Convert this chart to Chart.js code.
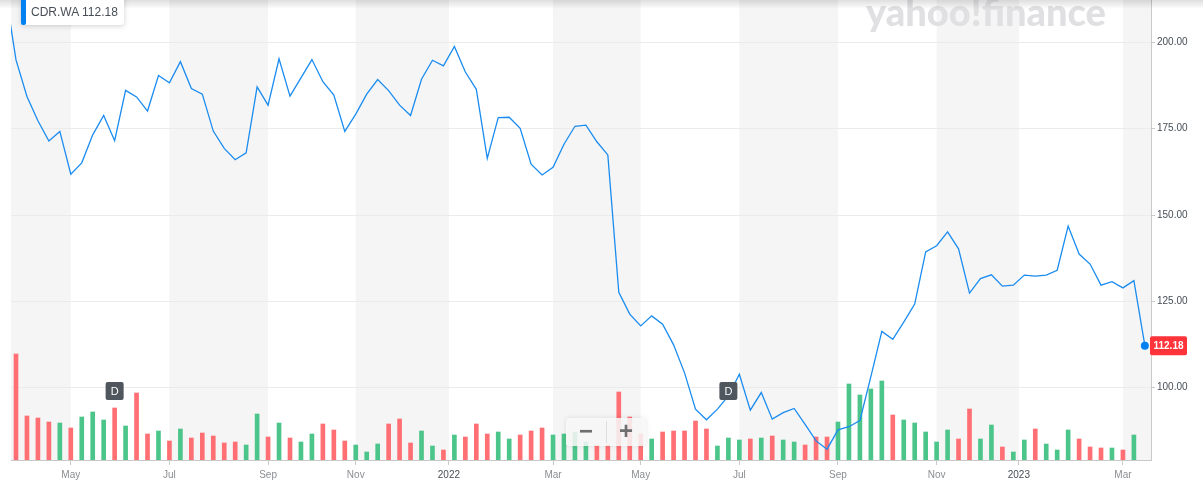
<!DOCTYPE html>
<html><head><meta charset="utf-8">
<script src="https://cdn.jsdelivr.net/npm/chart.js@4/dist/chart.umd.min.js"></script>
<style>html,body{margin:0;padding:0;background:#fff;}canvas{display:block;}</style>
</head><body>
<canvas id="c" width="1203" height="492"></canvas>
<script>
const ticker = 'CDR.WA';
const lastPrice = 112.18;
// weekly closes, week index -1 (partly off the left edge) .. 103 (current quote)
const closePrices = [
  215.4,
  194.9,184.3,177.3,171.4,174.2,161.8,165.1,173.2,178.8,171.5,
  186.1,184.2,180.1,190.4,188.3,194.4,186.6,185.0,174.3,169.3,
  166.0,168.0,187.1,181.8,195.2,184.4,189.7,195.0,188.6,184.7,
  174.2,179.2,185.0,189.2,186.0,181.8,178.8,189.3,194.8,193.2,
  198.8,191.4,186.4,166.4,178.2,178.3,175.1,164.7,161.6,163.8,
  170.5,175.7,176.0,171.2,167.4,127.6,121.3,117.9,120.8,118.4,
  112.4,104.3,93.8,90.7,93.8,97.6,103.9,93.5,98.6,90.9,
  92.8,94.0,89.4,84.6,82.2,87.8,88.7,90.5,103.2,116.3,
  114.0,119.0,124.2,139.3,141.1,145.1,140.2,127.4,131.6,132.7,
  129.4,129.7,132.6,132.3,132.6,134.0,146.8,138.7,135.8,129.7,
  130.7,128.9,131.0,112.18
];
// weekly volume (millions of shares, estimated), week index 0 .. 102
const volumes = [
  5.30,2.20,2.10,1.90,1.85,1.60,2.15,2.40,2.00,2.60,
  1.70,3.35,1.30,1.45,0.95,1.55,1.10,1.35,1.20,0.85,
  0.90,0.75,2.30,1.15,1.85,1.10,0.90,1.30,1.80,1.50,
  0.95,0.75,0.40,0.80,1.80,2.05,0.85,1.45,0.70,0.50,
  1.25,1.15,1.80,1.30,1.40,1.05,1.25,1.45,1.60,1.25,
  1.30,1.40,0.90,0.75,0.75,3.40,2.15,1.30,1.05,1.40,
  1.45,1.45,1.95,1.55,0.70,1.10,1.00,1.05,1.10,1.20,
  1.00,0.90,0.75,1.15,1.15,1.90,3.80,3.25,3.55,3.95,
  2.25,2.00,1.85,1.40,0.90,1.50,1.05,2.55,1.05,1.75,
  0.65,0.40,1.00,1.55,0.80,0.50,1.50,1.05,0.65,0.60,
  0.60,0.50,1.25
];
const priceTicks = [100, 125, 150, 175, 200];
const monthTickWeeks = [5, 14, 23, 31, 39.5, 49, 57, 66, 75, 84, 91.5, 101];
const monthTickLabels = ['May','Jul','Sep','Nov','2022','Mar','May','Jul','Sep','Nov','2023','Mar'];
const dividendWeeks = [9, 65];

const FONT = "'Liberation Sans', Arial, Helvetica, sans-serif";
const UP = '#4cc58a', DOWN = '#ff6f73', LINE = '#1a8cf0';

const pricePoints = closePrices.map((p, i) => ({x: i - 1, y: p}));
const volPoints = volumes.map((v, i) => ({x: i, y: v}));
const volColors = volumes.map((v, i) => closePrices[i + 1] >= closePrices[i] ? UP : DOWN);
const lastIdx = pricePoints.length - 1;

function rr(ctx, x, y, w, h, r) {
  ctx.beginPath();
  ctx.moveTo(x + r, y); ctx.lineTo(x + w - r, y); ctx.quadraticCurveTo(x + w, y, x + w, y + r);
  ctx.lineTo(x + w, y + h - r); ctx.quadraticCurveTo(x + w, y + h, x + w - r, y + h);
  ctx.lineTo(x + r, y + h); ctx.quadraticCurveTo(x, y + h, x, y + h - r);
  ctx.lineTo(x, y + r); ctx.quadraticCurveTo(x, y, x + r, y); ctx.closePath();
}

const decor = {
  id: 'decor',
  beforeDraw(chart) {
    const ctx = chart.ctx, a = chart.chartArea, xs = chart.scales.x;
    ctx.save();
    ctx.fillStyle = '#fff';
    ctx.fillRect(0, 0, chart.width, chart.height);
    // alternating bands between month ticks
    const edges = [a.left, ...monthTickWeeks.map(v => xs.getPixelForValue(v)), a.right];
    ctx.fillStyle = '#f5f5f5';
    for (let i = 0; i < edges.length - 1; i += 2) {
      ctx.fillRect(edges[i], a.top, edges[i + 1] - edges[i], a.bottom - a.top);
    }
    ctx.restore();
  },
  afterDraw(chart) {
    const ctx = chart.ctx, a = chart.chartArea, xs = chart.scales.x, ys = chart.scales.y;
    ctx.save();
    // watermark
    ctx.fillStyle = '#e0e0e3';
    ctx.font = "900 38px Lato, 'Open Sans', sans-serif";
    ctx.textBaseline = 'alphabetic';
    const wm = 'yahoo!finance';
    const w = ctx.measureText(wm).width;
    ctx.save();
    ctx.translate(866, 26);
    ctx.scale(240 / w, 1);
    ctx.fillText(wm, 0, 0);
    ctx.restore();
    // top shadow
    const g = ctx.createLinearGradient(0, 0, 0, 9);
    g.addColorStop(0, 'rgba(0,0,0,0.13)');
    g.addColorStop(1, 'rgba(0,0,0,0)');
    ctx.fillStyle = g;
    ctx.fillRect(0, 0, chart.width, 9);
    // ticker label
    ctx.save();
    ctx.shadowColor = 'rgba(0,0,0,0.18)';
    ctx.shadowBlur = 5;
    ctx.shadowOffsetY = 1;
    ctx.fillStyle = '#fff';
    rr(ctx, 21, -4, 103, 29, 3);
    ctx.fill();
    ctx.restore();
    ctx.fillStyle = '#0081f2';
    rr(ctx, 21, -4, 5, 29, 2);
    ctx.fill();
    ctx.fillStyle = '#464e56';
    ctx.textBaseline = 'middle';
    ctx.textAlign = 'left';
    ctx.font = '12px ' + FONT;
    ctx.fillText(ticker, 31, 13);
    ctx.fillText(lastPrice.toFixed(2), 82, 13);
    // dividend badges
    dividendWeeks.forEach(wk => {
      const cx = xs.getPixelForValue(wk);
      ctx.fillStyle = '#50565d';
      rr(ctx, cx - 9, a.bottom - 78, 18, 18, 2);
      ctx.fill();
      ctx.fillStyle = '#fff';
      ctx.font = '11px ' + FONT;
      ctx.textAlign = 'center';
      ctx.fillText('D', cx, a.bottom - 69 + 0.5);
    });
    // zoom control
    ctx.save();
    ctx.shadowColor = 'rgba(0,0,0,0.12)';
    ctx.shadowBlur = 4;
    ctx.fillStyle = 'rgba(250,250,250,0.85)';
    rr(ctx, 566, 418, 80, 28, 3);
    ctx.fill();
    ctx.restore();
    ctx.strokeStyle = '#dedede';
    ctx.lineWidth = 1;
    ctx.beginPath(); ctx.moveTo(606.5, 421); ctx.lineTo(606.5, 443); ctx.stroke();
    ctx.fillStyle = '#6f6f6f';
    ctx.font = 'bold 24px ' + FONT;
    ctx.textAlign = 'center';
    ctx.fillText('\u2212', 586, 432);
    ctx.fillText('+', 626, 432);
    // last price tag
    const py = ys.getPixelForValue(lastPrice);
    ctx.fillStyle = '#ff333a';
    rr(ctx, 1150, py - 9.5, 37, 19, 2);
    ctx.fill();
    ctx.fillStyle = '#fff';
    ctx.font = 'bold 10px ' + FONT;
    ctx.textAlign = 'center';
    ctx.fillText(lastPrice.toFixed(2), 1168.5, py + 0.5);
    ctx.restore();
  }
};

new Chart(document.getElementById('c'), {
  type: 'bar',
  data: {
    datasets: [
      {
        type: 'line', data: pricePoints, yAxisID: 'y', order: 0,
        borderColor: LINE, borderWidth: 1.3, tension: 0,
        pointRadius: ctx => ctx.dataIndex === lastIdx ? 4 : 0,
        pointBackgroundColor: '#0081f2', pointBorderWidth: 0, pointHoverRadius: 0
      },
      {
        type: 'bar', data: volPoints, yAxisID: 'yv', order: 1,
        backgroundColor: volColors, barThickness: 4, borderWidth: 0
      }
    ]
  },
  options: {
    responsive: false, animation: false, events: [],
    layout: {autoPadding: false, padding: {left: 11, top: 0, right: 0, bottom: 0}},
    plugins: {legend: {display: false}, tooltip: {enabled: false}},
    scales: {
      x: {
        type: 'linear', min: -0.456, max: 103.56, offset: false,
        afterBuildTicks: s => { s.ticks = monthTickWeeks.map(v => ({value: v})); },
        afterFit: s => { s.height = 32; s.paddingLeft = 0; s.paddingRight = 0; },
        ticks: {
          autoSkip: false, maxRotation: 0, padding: 4,
          font: {size: 10, family: FONT},
          color: ctx => /^\d{4}$/.test(monthTickLabels[ctx.index]) ? '#464e56' : '#8b8e92',
          callback: (v, i) => monthTickLabels[i]
        },
        grid: {drawOnChartArea: false, offset: false, tickLength: 5, color: '#c9c9c9'},
        border: {color: '#c9c9c9'}
      },
      y: {
        position: 'right', min: 79.07, max: 212.25,
        afterBuildTicks: s => { s.ticks = priceTicks.map(v => ({value: v})); },
        afterFit: s => { s.width = 52; s.paddingTop = 0; s.paddingBottom = 0; },
        ticks: {padding: 2, font: {size: 10, family: FONT}, color: '#464e56', callback: v => Number(v).toFixed(2)},
        grid: {color: '#ebebeb', offset: false, tickLength: 4, tickColor: '#c9c9c9'},
        border: {color: '#c9c9c9'}
      },
      yv: {display: false, min: 0, max: 23}
    }
  },
  plugins: [decor]
});
</script>
</body></html>
